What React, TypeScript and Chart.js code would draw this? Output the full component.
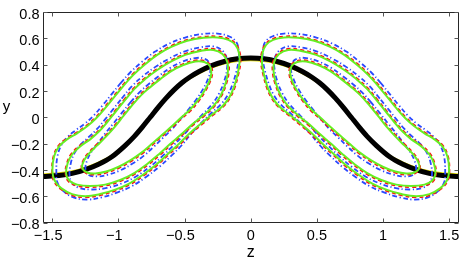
import React, { useEffect, useRef } from 'react';
import { Chart, registerables } from 'chart.js';

Chart.register(...registerables);

type P = [number, number];

const X_TICKS = [-1.5, -1, -0.5, 0, 0.5, 1, 1.5];
const Y_TICKS = [-0.8, -0.6, -0.4, -0.2, 0, 0.2, 0.4, 0.6, 0.8];
const X_LABEL = 'z';
const Y_LABEL = 'y';

const BLACK_Z = [-1.571, -1.45, -1.35, -1.25, -1.15, -1.05, -0.95, -0.88, -0.82, -0.76, -0.7, -0.64, -0.58, -0.52, -0.46, -0.39, -0.3, -0.2, -0.1, 0,
  0.1, 0.2, 0.3, 0.39, 0.46, 0.52, 0.58, 0.64, 0.7, 0.76, 0.82, 0.88, 0.95, 1.05, 1.15, 1.25, 1.35, 1.45, 1.571];
const BLACK_Y = [-0.45, -0.443, -0.427, -0.398, -0.357, -0.3, -0.215, -0.145, -0.075, 0.0, 0.075, 0.145, 0.208, 0.262, 0.306, 0.348, 0.391, 0.424, 0.444, 0.45,
  0.444, 0.424, 0.391, 0.348, 0.306, 0.262, 0.208, 0.145, 0.075, 0.0, -0.075, -0.145, -0.215, -0.3, -0.357, -0.398, -0.427, -0.443, -0.45];
const YELLOW_Y = [-0.43, -0.423, -0.408, -0.38, -0.341, -0.287, -0.205, -0.138, -0.072, 0.0, 0.072, 0.138, 0.199, 0.25, 0.292, 0.332, 0.373, 0.405, 0.424, 0.43,
  0.424, 0.405, 0.373, 0.332, 0.292, 0.25, 0.199, 0.138, 0.072, 0.0, -0.072, -0.138, -0.205, -0.287, -0.341, -0.38, -0.408, -0.423, -0.43];

// left-hand contours (z, y); the right-hand ones are their mirror images
const OUTER_GREEN: P[] = [
  [-1.5, -0.405], [-1.487, -0.298], [-1.449, -0.222], [-1.389, -0.168], [-1.313, -0.122], [-1.237, -0.069],
  [-1.169, -0.008], [-1.101, 0.069], [-1.033, 0.153], [-0.964, 0.237], [-0.889, 0.321], [-0.805, 0.397],
  [-0.707, 0.474], [-0.601, 0.535], [-0.48, 0.581], [-0.358, 0.604], [-0.252, 0.607], [-0.169, 0.588],
  [-0.116, 0.55], [-0.089, 0.489], [-0.085, 0.413], [-0.101, 0.321], [-0.127, 0.229], [-0.161, 0.153],
  [-0.214, 0.084], [-0.29, 0.023], [-0.373, -0.046], [-0.457, -0.118], [-0.54, -0.199], [-0.623, -0.275],
  [-0.714, -0.359], [-0.813, -0.435], [-0.919, -0.504], [-1.025, -0.55], [-1.139, -0.584], [-1.252, -0.6],
  [-1.351, -0.584], [-1.434, -0.539], [-1.483, -0.481],
];
const OUTER_RED: P[] = [
  [-1.503, -0.405], [-1.492, -0.296], [-1.455, -0.217], [-1.393, -0.161], [-1.317, -0.115], [-1.242, -0.062],
  [-1.175, -0.002], [-1.107, 0.075], [-1.039, 0.159], [-0.97, 0.243], [-0.895, 0.327], [-0.811, 0.403],
  [-0.712, 0.48], [-0.604, 0.542], [-0.482, 0.589], [-0.358, 0.612], [-0.251, 0.615], [-0.165, 0.595],
  [-0.11, 0.555], [-0.082, 0.49], [-0.077, 0.413], [-0.094, 0.32], [-0.12, 0.227], [-0.155, 0.149],
  [-0.209, 0.078], [-0.285, 0.016], [-0.367, -0.053], [-0.451, -0.125], [-0.534, -0.206], [-0.617, -0.282],
  [-0.708, -0.366], [-0.807, -0.442], [-0.914, -0.512], [-1.021, -0.558], [-1.137, -0.593], [-1.252, -0.609],
  [-1.354, -0.593], [-1.439, -0.545], [-1.49, -0.484],
];
const OUTER_BLUE: P[] = [
  [-1.47, -0.415], [-1.462, -0.3], [-1.432, -0.212], [-1.385, -0.15], [-1.325, -0.1], [-1.254, -0.048],
  [-1.188, 0.013], [-1.121, 0.09], [-1.053, 0.174], [-0.985, 0.258], [-0.91, 0.342], [-0.826, 0.418],
  [-0.726, 0.497], [-0.616, 0.56], [-0.49, 0.608], [-0.362, 0.633], [-0.252, 0.636], [-0.167, 0.616],
  [-0.112, 0.576], [-0.092, 0.512], [-0.092, 0.435], [-0.11, 0.343], [-0.138, 0.25], [-0.172, 0.172],
  [-0.224, 0.1], [-0.296, 0.034], [-0.372, -0.04], [-0.448, -0.122], [-0.522, -0.213], [-0.602, -0.294],
  [-0.693, -0.378], [-0.792, -0.454], [-0.899, -0.524], [-1.007, -0.571], [-1.123, -0.608], [-1.24, -0.626],
  [-1.34, -0.609], [-1.418, -0.56], [-1.462, -0.495],
];

const MIDDLE_GREEN: P[] = [
  [-1.396, -0.428], [-1.385, -0.351], [-1.351, -0.283], [-1.29, -0.222], [-1.214, -0.168], [-1.146, -0.107],
  [-1.086, -0.038], [-1.025, 0.038], [-0.957, 0.122], [-0.881, 0.214], [-0.798, 0.29], [-0.707, 0.359],
  [-0.608, 0.42], [-0.495, 0.474], [-0.381, 0.504], [-0.283, 0.512], [-0.214, 0.481], [-0.177, 0.42],
  [-0.173, 0.344], [-0.192, 0.252], [-0.23, 0.16], [-0.283, 0.084], [-0.358, 0.015], [-0.442, -0.053],
  [-0.525, -0.13], [-0.608, -0.202], [-0.692, -0.279], [-0.783, -0.355], [-0.881, -0.424], [-0.987, -0.477],
  [-1.101, -0.512], [-1.214, -0.523], [-1.313, -0.512], [-1.373, -0.481],
];
const MIDDLE_RED: P[] = [
  [-1.401, -0.428], [-1.391, -0.349], [-1.357, -0.278], [-1.295, -0.216], [-1.219, -0.162], [-1.152, -0.101],
  [-1.092, -0.032], [-1.031, 0.044], [-0.963, 0.128], [-0.887, 0.22], [-0.804, 0.296], [-0.712, 0.366],
  [-0.612, 0.427], [-0.497, 0.482], [-0.381, 0.512], [-0.281, 0.52], [-0.209, 0.487], [-0.169, 0.423],
  [-0.165, 0.344], [-0.185, 0.25], [-0.224, 0.156], [-0.278, 0.078], [-0.352, 0.009], [-0.436, -0.06],
  [-0.519, -0.137], [-0.602, -0.209], [-0.686, -0.286], [-0.777, -0.362], [-0.876, -0.432], [-0.984, -0.486],
  [-1.1, -0.521], [-1.215, -0.532], [-1.317, -0.52], [-1.38, -0.486],
];
const MIDDLE_BLUE: P[] = [
  [-1.37, -0.44], [-1.362, -0.356], [-1.334, -0.274], [-1.284, -0.205], [-1.222, -0.148], [-1.16, -0.087],
  [-1.103, -0.018], [-1.043, 0.058], [-0.976, 0.142], [-0.9, 0.234], [-0.817, 0.311], [-0.724, 0.381],
  [-0.622, 0.443], [-0.503, 0.499], [-0.384, 0.53], [-0.282, 0.538], [-0.213, 0.505], [-0.18, 0.442],
  [-0.18, 0.366], [-0.201, 0.273], [-0.24, 0.18], [-0.292, 0.1], [-0.362, 0.025], [-0.438, -0.055],
  [-0.513, -0.141], [-0.59, -0.219], [-0.672, -0.299], [-0.762, -0.376], [-0.861, -0.446], [-0.97, -0.501],
  [-1.088, -0.537], [-1.204, -0.549], [-1.3, -0.536], [-1.352, -0.497],
];

const INNER_GREEN: P[] = [
  [-1.275, -0.382], [-1.26, -0.328], [-1.222, -0.275], [-1.161, -0.214], [-1.093, -0.145], [-1.025, -0.069],
  [-0.964, 0.008], [-0.896, 0.092], [-0.828, 0.168], [-0.76, 0.229], [-0.684, 0.29], [-0.601, 0.351],
  [-0.51, 0.397], [-0.419, 0.424], [-0.351, 0.42], [-0.309, 0.39], [-0.298, 0.336], [-0.313, 0.275],
  [-0.351, 0.199], [-0.404, 0.122], [-0.464, 0.053], [-0.532, -0.008], [-0.601, -0.073], [-0.676, -0.138],
  [-0.752, -0.206], [-0.828, -0.271], [-0.911, -0.328], [-1.002, -0.378], [-1.093, -0.413], [-1.176, -0.428],
  [-1.237, -0.42],
];
const INNER_RED: P[] = [
  [-1.28, -0.382], [-1.266, -0.326], [-1.228, -0.27], [-1.167, -0.208], [-1.099, -0.139], [-1.031, -0.063],
  [-0.97, 0.014], [-0.902, 0.098], [-0.834, 0.174], [-0.765, 0.236], [-0.688, 0.297], [-0.604, 0.358],
  [-0.512, 0.405], [-0.419, 0.432], [-0.348, 0.428], [-0.303, 0.394], [-0.29, 0.336], [-0.306, 0.272],
  [-0.345, 0.194], [-0.398, 0.116], [-0.458, 0.046], [-0.526, -0.015], [-0.595, -0.08], [-0.67, -0.145],
  [-0.746, -0.213], [-0.822, -0.278], [-0.906, -0.336], [-0.998, -0.387], [-1.091, -0.422], [-1.177, -0.437],
  [-1.242, -0.427],
];
const INNER_BLUE: P[] = [
  [-1.25, -0.392], [-1.238, -0.33], [-1.206, -0.265], [-1.155, -0.197], [-1.101, -0.124], [-1.039, -0.048],
  [-0.978, 0.029], [-0.91, 0.113], [-0.842, 0.189], [-0.773, 0.251], [-0.695, 0.313], [-0.61, 0.375],
  [-0.515, 0.423], [-0.42, 0.45], [-0.352, 0.445], [-0.313, 0.412], [-0.305, 0.356], [-0.322, 0.293],
  [-0.361, 0.214], [-0.412, 0.135], [-0.468, 0.062], [-0.528, -0.01], [-0.59, -0.085], [-0.66, -0.153],
  [-0.734, -0.225], [-0.808, -0.292], [-0.89, -0.35], [-0.983, -0.402], [-1.08, -0.437], [-1.165, -0.45],
  [-1.23, -0.437],
];

const GREEN = { borderColor: '#66ee22', borderWidth: 2, borderDash: [] as number[], order: 1 };
const RED = { borderColor: '#ff1010', borderWidth: 1.6, borderDash: [4, 3], order: 2 };
const BLUE = { borderColor: '#2a48ff', borderWidth: 1.8, borderDash: [5, 2.5, 1.2, 2.5], order: 3 };

const CONTOURS = [
  { pts: OUTER_GREEN, start: 9, style: GREEN },
  { pts: OUTER_RED, start: 9, style: RED },
  { pts: OUTER_BLUE, start: 9, style: BLUE },
  { pts: MIDDLE_GREEN, start: 8, style: GREEN },
  { pts: MIDDLE_RED, start: 8, style: RED },
  { pts: MIDDLE_BLUE, start: 8, style: BLUE },
  { pts: INNER_GREEN, start: 7, style: GREEN },
  { pts: INNER_RED, start: 7, style: RED },
  { pts: INNER_BLUE, start: 7, style: BLUE },
];

function loop(pts: P[], start: number, flip: boolean) {
  const r = [...pts.slice(start), ...pts.slice(0, start), pts[start]];
  return r.map(([z, y]) => ({ x: flip ? -z : z, y }));
}

const FONT = '"Liberation Sans", Arial, Helvetica, sans-serif';

function fmt(v: number) {
  const a = Math.abs(v);
  const s = String(Math.round(a * 10) / 10);
  return { minus: v < 0, digits: s };
}

const framePlugin = {
  id: 'matlabFrame',
  afterDraw(chart: any) {
    const { ctx, chartArea } = chart;
    const xs = chart.scales.x;
    const ys = chart.scales.y;
    const L = Math.round(chartArea.left) + 0.5;
    const R = Math.round(chartArea.right) - 0.5;
    const T = Math.round(chartArea.top) + 0.5;
    const B = Math.round(chartArea.bottom) - 0.5;
    ctx.save();
    ctx.strokeStyle = '#262626';
    ctx.lineWidth = 1;
    ctx.beginPath();
    ctx.moveTo(L, T); ctx.lineTo(R, T); ctx.lineTo(R, B); ctx.lineTo(L, B); ctx.closePath();
    ctx.stroke();
    ctx.strokeStyle = '#555';
    ctx.beginPath();
    for (const v of X_TICKS) {
      const px = Math.round(xs.getPixelForValue(v)) + 0.5;
      ctx.moveTo(px, B); ctx.lineTo(px, B - 4);
      ctx.moveTo(px, T); ctx.lineTo(px, T + 4);
    }
    for (const v of Y_TICKS) {
      const py = Math.round(ys.getPixelForValue(v)) + 0.5;
      ctx.moveTo(L, py); ctx.lineTo(L + 4, py);
      ctx.moveTo(R, py); ctx.lineTo(R - 4, py);
    }
    ctx.stroke();

    ctx.fillStyle = '#000';
    ctx.font = `14.5px ${FONT}`;
    ctx.textBaseline = 'alphabetic';
    const mw = ctx.measureText('\u2212').width;
    for (const v of X_TICKS) {
      const px = xs.getPixelForValue(v);
      const f = fmt(v);
      const dw = ctx.measureText(f.digits).width;
      ctx.textAlign = 'left';
      const x0 = px - dw / 2;
      ctx.fillText(f.digits, x0, B + 17.5);
      if (f.minus) ctx.fillText('\u2212', x0 - mw, B + 17.5);
    }
    ctx.textAlign = 'right';
    for (const v of Y_TICKS) {
      const py = ys.getPixelForValue(v);
      const f = fmt(v);
      ctx.fillText((f.minus ? '\u2212' : '') + f.digits, L - 4, py + 6.7);
    }
    ctx.font = `16px ${FONT}`;
    ctx.textAlign = 'center';
    ctx.fillText(X_LABEL, xs.getPixelForValue(0), 256.5);
    ctx.font = `15px ${FONT}`;
    ctx.fillText(Y_LABEL, 6.5, 111);
    ctx.restore();
  },
};

export default function App() {
  const ref = useRef<HTMLCanvasElement>(null);
  useEffect(() => {
    document.body.style.margin = '0';
    const canvas = ref.current;
    if (!canvas) return;
    const datasets: any[] = [];
    for (const flip of [false, true]) {
      for (const c of CONTOURS) {
        datasets.push({
          data: loop(c.pts, c.start, flip),
          showLine: true,
          fill: false,
          pointRadius: 0,
          tension: 0.4,
          borderColor: c.style.borderColor,
          borderWidth: c.style.borderWidth,
          borderDash: c.style.borderDash,
          order: c.style.order,
        });
      }
    }
    datasets.push({
      data: BLACK_Z.map((z, i) => ({ x: z, y: BLACK_Y[i] })),
      showLine: true, fill: false, pointRadius: 0,
      cubicInterpolationMode: 'monotone',
      borderColor: '#000000', borderWidth: 5, order: 10,
    });
    datasets.push({
      data: BLACK_Z.map((z, i) => ({ x: z, y: YELLOW_Y[i] })),
      showLine: true, fill: false, pointRadius: 0,
      cubicInterpolationMode: 'monotone',
      borderColor: '#e8e000', borderWidth: 1.3, order: 11,
    });
    const chart = new Chart(canvas, {
      type: 'scatter',
      data: { datasets },
      options: {
        responsive: false,
        animation: false,
        devicePixelRatio: 1,
        layout: { padding: { top: 12, right: 4.5, left: 0, bottom: 0 } },
        plugins: { legend: { display: false }, tooltip: { enabled: false } },
        scales: {
          x: {
            type: 'linear', min: -1.5708, max: 1.5708,
            ticks: { display: false }, grid: { display: false }, border: { display: false },
            afterFit: (s: any) => { s.height = 41.5; },
          },
          y: {
            type: 'linear', min: -0.8, max: 0.8,
            ticks: { display: false }, grid: { display: false }, border: { display: false },
            afterFit: (s: any) => { s.width = 43; },
          },
        },
      },
      plugins: [framePlugin],
    } as any);
    return () => chart.destroy();
  }, []);
  return <canvas ref={ref} width={463} height={264} style={{ display: 'block', width: 463, height: 264 }} />;
}
